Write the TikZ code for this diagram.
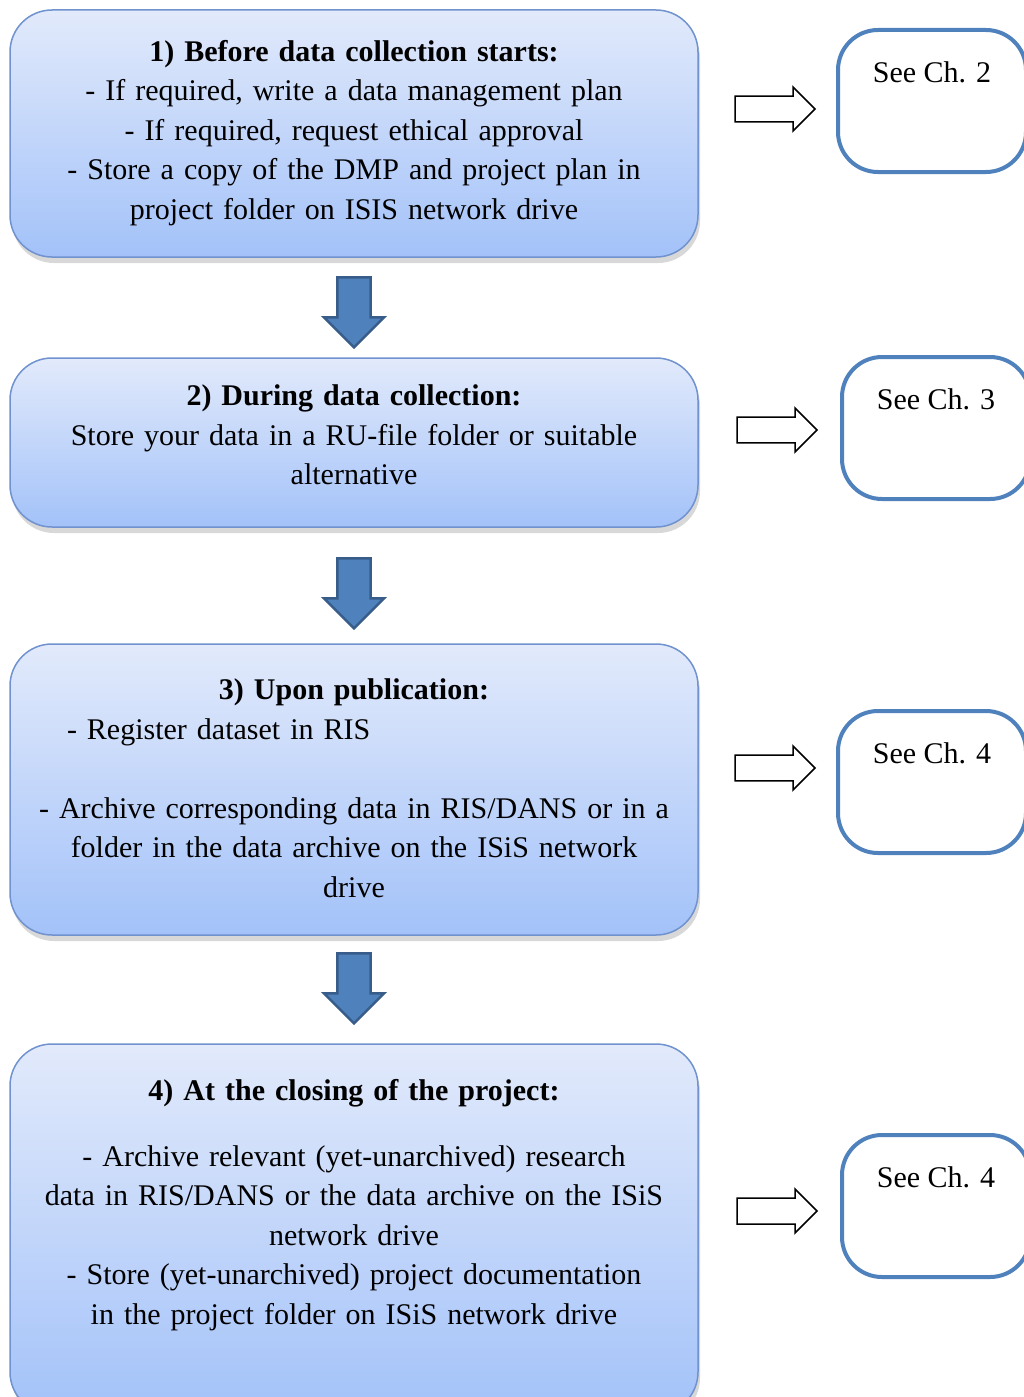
\documentclass[tikz,border=0pt]{standalone}
\usepackage{fontspec}
\setmainfont{Liberation Serif}
\usetikzlibrary{shapes.arrows, positioning, calc, shadows}

\definecolor{boxtop}{RGB}{226,234,251}
\definecolor{boxbottom}{RGB}{163,194,249}
\definecolor{boxline}{RGB}{112,146,206}
\definecolor{refblue}{RGB}{79,129,189}
\definecolor{refdark}{RGB}{56,93,138}

\begin{document}
\begin{tikzpicture}[x=1pt, y=-1pt, every node/.style={font=\fontsize{30}{39.5}\selectfont},
    stage/.style={rectangle, draw=boxline, line width=1.5pt, rounded corners=42pt, top color=boxtop, bottom color=boxbottom, minimum width=688pt, drop shadow={shadow xshift=2pt, shadow yshift=-6pt, fill=black!30, opacity=.5}},
    stagetext/.style={text width=670pt, align=center, inner sep=0pt},
    downarrow/.style={single arrow, rotate=-90, draw=refdark, fill=refblue, line width=2.5pt, minimum height=70pt, minimum width=60pt, inner xsep=0pt, inner ysep=7.5pt, single arrow tip angle=90},
    hollowarrow/.style={single arrow, draw=black, fill=white, line width=1.5pt, minimum height=80pt, minimum width=44pt, inner xsep=0pt, inner ysep=9.5pt, single arrow tip angle=90},
    chapter/.style={rectangle, draw=refblue, line width=4pt, rounded corners=40pt, minimum width=188pt, inner sep=0pt, text height=52pt, text depth=90pt, align=center}]
    \clip (0,0) rectangle (1024,1397);

    \node[stage, minimum height=247pt] (before) at (354,133.5) {};
    \node[stage, minimum height=169pt] (during) at (354,442.5) {};
    \node[stage, minimum height=291pt] (publication) at (354,789.5) {};
    \node[stage, minimum height=370pt] (closing) at (354,1229) {};

    \node[stagetext] (beforetext) at (354,133) {\textbf{1) Before data collection starts:}\\- If required, write a data management plan\\- If required, request ethical approval\\- Store a copy of the DMP and project plan in\\project folder on ISIS network drive};
    \node[stagetext] (duringtext) at (354,435) {\textbf{2) During data collection:}\\Store your data in a RU-file folder or suitable\\alternative};
    \node[stagetext] (publicationtext) at (354,788) {\textbf{3) Upon publication:}\\\makebox[670pt][l]{\hspace*{48pt}- Register dataset in RIS}\\[39.5pt]- Archive corresponding data in RIS/DANS or in a\\folder in the data archive on the ISiS network\\drive};
    \node[stagetext] (closingtext) at (354,1205) {\textbf{4) At the closing of the project:}\\[26pt]- Archive relevant (yet-unarchived) research\\data in RIS/DANS or the data archive on the ISiS\\network drive\\- Store (yet-unarchived) project documentation\\in the project folder on ISiS network drive};

    \node[downarrow] (down1) at (354,304) {};
    \node[downarrow] (down2) at (354,585) {};
    \node[downarrow] (down3) at (354,980) {};

    \node[chapter] (ch2) at (932,101) {See Ch. 2};
    \node[chapter] (ch3) at (936,428) {See Ch. 3};
    \node[chapter] (ch4a) at (932,782) {See Ch. 4};
    \node[chapter] (ch4b) at (936,1206) {See Ch. 4};

    \node[hollowarrow] (to2) at (768.5,109) {};
    \node[hollowarrow] (to3) at (770.5,430) {};
    \node[hollowarrow] (to4a) at (768.5,768) {};
    \node[hollowarrow] (to4b) at (770.5,1211) {};
\end{tikzpicture}
\end{document}
